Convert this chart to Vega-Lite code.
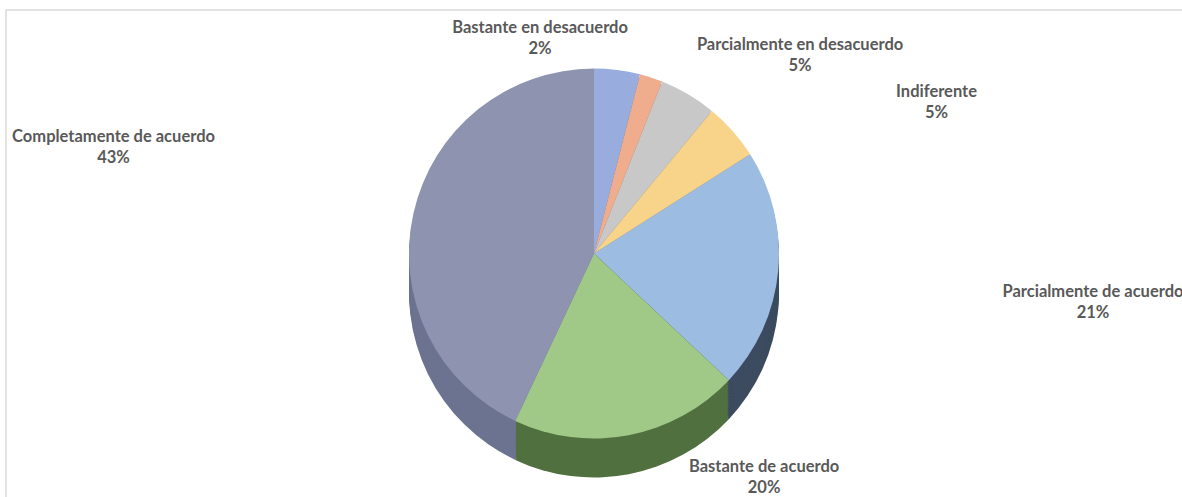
{
  "$schema": "https://vega.github.io/schema/vega-lite/v6.json",
  "width": 1176,
  "height": 487,
  "autosize": {"type": "none"},
  "padding": {"left": 6, "top": 10, "right": 0, "bottom": 0},
  "background": "white",
  "config": {"view": {"stroke": null}},
  "data": {
    "values": [
      {"categoria": "Completamente en desacuerdo", "valor": 4, "orden": 1, "etiqueta": ""},
      {"categoria": "Bastante en desacuerdo", "valor": 2, "orden": 2, "etiqueta": "Bastante en desacuerdo\n2%"},
      {"categoria": "Parcialmente en desacuerdo", "valor": 5, "orden": 3, "etiqueta": "Parcialmente en desacuerdo\n5%"},
      {"categoria": "Indiferente", "valor": 5, "orden": 4, "etiqueta": "Indiferente\n5%"},
      {"categoria": "Parcialmente de acuerdo", "valor": 21, "orden": 5, "etiqueta": "Parcialmente de acuerdo\n21%"},
      {"categoria": "Bastante de acuerdo", "valor": 20, "orden": 6, "etiqueta": "Bastante de acuerdo\n20%"},
      {"categoria": "Completamente de acuerdo", "valor": 43, "orden": 7, "etiqueta": "Completamente de acuerdo\n43%"}
    ]
  },
  "layer": [
    {
      "data": {"values": [{}]},
      "mark": {"type": "rule", "stroke": "#D9D9D9", "strokeWidth": 1.5},
      "encoding": {"y": {"value": 0}}
    },
    {
      "data": {"values": [{}]},
      "mark": {"type": "rule", "stroke": "#D9D9D9", "strokeWidth": 1.5},
      "encoding": {"x": {"value": 0}}
    },
    {
      "encoding": {
        "theta": {"field": "valor", "type": "quantitative", "stack": true},
        "order": {"field": "orden", "type": "quantitative"}
      },
      "layer": [
        {
          "mark": {"type": "arc", "radius": 185, "yOffset": 39, "strokeWidth": 0},
          "encoding": {"fill": {"field": "categoria", "type": "nominal", "legend": null,
            "scale": {"domain": ["Completamente en desacuerdo", "Bastante en desacuerdo", "Parcialmente en desacuerdo", "Indiferente", "Parcialmente de acuerdo", "Bastante de acuerdo", "Completamente de acuerdo"],
                      "range": ["#5C6F9A", "#A8623E", "#7A7A7A", "#B08A30", "#3C4B5F", "#51703F", "#6C7390"]}}}
        },
        {"mark": {"type": "arc", "radius": 185, "yOffset": 36, "strokeWidth": 0}, "encoding": {"fill": {"field": "categoria", "type": "nominal", "legend": null}}},
        {"mark": {"type": "arc", "radius": 185, "yOffset": 33, "strokeWidth": 0}, "encoding": {"fill": {"field": "categoria", "type": "nominal", "legend": null}}},
        {"mark": {"type": "arc", "radius": 185, "yOffset": 30, "strokeWidth": 0}, "encoding": {"fill": {"field": "categoria", "type": "nominal", "legend": null}}},
        {"mark": {"type": "arc", "radius": 185, "yOffset": 27, "strokeWidth": 0}, "encoding": {"fill": {"field": "categoria", "type": "nominal", "legend": null}}},
        {"mark": {"type": "arc", "radius": 185, "yOffset": 24, "strokeWidth": 0}, "encoding": {"fill": {"field": "categoria", "type": "nominal", "legend": null}}},
        {"mark": {"type": "arc", "radius": 185, "yOffset": 21, "strokeWidth": 0}, "encoding": {"fill": {"field": "categoria", "type": "nominal", "legend": null}}},
        {"mark": {"type": "arc", "radius": 185, "yOffset": 18, "strokeWidth": 0}, "encoding": {"fill": {"field": "categoria", "type": "nominal", "legend": null}}},
        {"mark": {"type": "arc", "radius": 185, "yOffset": 15, "strokeWidth": 0}, "encoding": {"fill": {"field": "categoria", "type": "nominal", "legend": null}}},
        {"mark": {"type": "arc", "radius": 185, "yOffset": 12, "strokeWidth": 0}, "encoding": {"fill": {"field": "categoria", "type": "nominal", "legend": null}}},
        {"mark": {"type": "arc", "radius": 185, "yOffset": 9, "strokeWidth": 0}, "encoding": {"fill": {"field": "categoria", "type": "nominal", "legend": null}}},
        {"mark": {"type": "arc", "radius": 185, "yOffset": 6, "strokeWidth": 0}, "encoding": {"fill": {"field": "categoria", "type": "nominal", "legend": null}}},
        {"mark": {"type": "arc", "radius": 185, "yOffset": 3, "strokeWidth": 0}, "encoding": {"fill": {"field": "categoria", "type": "nominal", "legend": null}}},
        {
          "mark": {"type": "arc", "radius": 185, "strokeWidth": 0},
          "encoding": {"color": {"field": "categoria", "type": "nominal", "legend": null,
            "scale": {"domain": ["Completamente en desacuerdo", "Bastante en desacuerdo", "Parcialmente en desacuerdo", "Indiferente", "Parcialmente de acuerdo", "Bastante de acuerdo", "Completamente de acuerdo"],
                      "range": ["#98ADDE", "#F0AD8D", "#C8C8C8", "#F7D48A", "#9DBCE2", "#A0C886", "#8E94AF"]}}}
        },
        {
          "mark": {"type": "text", "radius": 230, "dx": -125, "dy": -7, "lineBreak": "\n", "font": "Lato", "fontWeight": "bold", "fontSize": 16.5, "fill": "#595959", "lineHeight": 21, "baseline": "middle", "align": "center"},
          "encoding": {"text": {"condition": {"test": "datum.orden == 2", "field": "etiqueta"}, "value": ""}}
        },
        {
          "mark": {"type": "text", "radius": 230, "dx": 89, "dy": -11, "lineBreak": "\n", "font": "Lato", "fontWeight": "bold", "fontSize": 16.5, "fill": "#595959", "lineHeight": 21, "baseline": "middle", "align": "center"},
          "encoding": {"text": {"condition": {"test": "datum.orden == 3", "field": "etiqueta"}, "value": ""}}
        },
        {
          "mark": {"type": "text", "radius": 230, "dx": 170, "dy": -9, "lineBreak": "\n", "font": "Lato", "fontWeight": "bold", "fontSize": 16.5, "fill": "#595959", "lineHeight": 21, "baseline": "middle", "align": "center"},
          "encoding": {"text": {"condition": {"test": "datum.orden == 4", "field": "etiqueta"}, "value": ""}}
        },
        {
          "mark": {"type": "text", "radius": 230, "dx": 270, "dy": 17, "lineBreak": "\n", "font": "Lato", "fontWeight": "bold", "fontSize": 16.5, "fill": "#595959", "lineHeight": 21, "baseline": "middle", "align": "center"},
          "encoding": {"text": {"condition": {"test": "datum.orden == 5", "field": "etiqueta"}, "value": ""}}
        },
        {
          "mark": {"type": "text", "radius": 230, "dx": 127, "dy": -12, "lineBreak": "\n", "font": "Lato", "fontWeight": "bold", "fontSize": 16.5, "fill": "#595959", "lineHeight": 21, "baseline": "middle", "align": "center"},
          "encoding": {"text": {"condition": {"test": "datum.orden == 6", "field": "etiqueta"}, "value": ""}}
        },
        {
          "mark": {"type": "text", "radius": 230, "dx": -256, "dy": -66, "lineBreak": "\n", "font": "Lato", "fontWeight": "bold", "fontSize": 16.5, "fill": "#595959", "lineHeight": 21, "baseline": "middle", "align": "center"},
          "encoding": {"text": {"condition": {"test": "datum.orden == 7", "field": "etiqueta"}, "value": ""}}
        }
      ]
    }
  ]
}
